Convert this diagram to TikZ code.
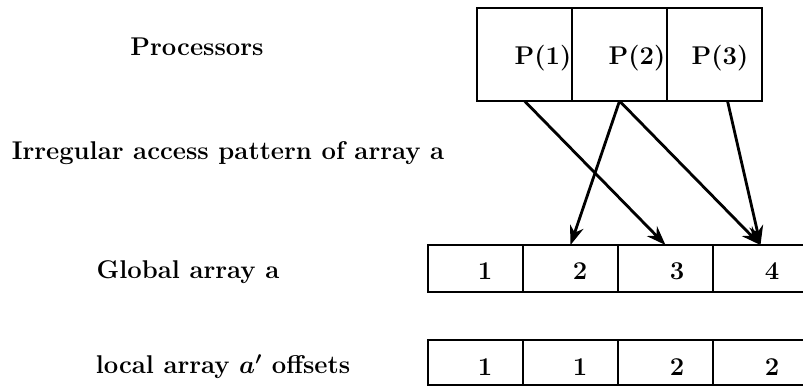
\documentclass[tikz,border=0pt]{standalone}
\usetikzlibrary{arrows.meta}
\begin{document}
\begin{tikzpicture}[x=0.02cm, y=-0.02cm, line width=1.6pt,
        font=\fontsize{14.6}{17}\selectfont\bfseries]
        \useasboundingbox (0,0) rectangle (803,387);
        % left hand labels
        \node (lproc) at (197, 47) {Processors};
        \node (lpat) at (228, 153) {Irregular access pattern of array a};
        \node (lglob) at (188, 272) {Global array a};
        \node (lloc) at (223, 367) {local array {\boldmath$a'$} offsets};
        \begin{scope}[every node/.style={draw, minimum width=1.9cm, inner sep=0pt, outer sep=0pt}]
            \node [minimum height=1.86cm] (pc1) at (524.5, 54.5) {};
            \node [minimum height=1.86cm] (pc2) at (619.5, 54.5) {};
            \node [minimum height=1.86cm] (pc3) at (714.5, 54.5) {};
            \node [minimum height=0.94cm] (g1) at (475.5, 268.5) {};
            \node [minimum height=0.94cm] (g2) at (570.5, 268.5) {};
            \node [minimum height=0.94cm] (g3) at (665.5, 268.5) {};
            \node [minimum height=0.94cm] (g4) at (760.5, 268.5) {};
            \node [minimum height=0.9cm] (o1) at (475.5, 362.5) {};
            \node [minimum height=0.9cm] (o2) at (570.5, 362.5) {};
            \node [minimum height=0.9cm] (o3) at (665.5, 362.5) {};
            \node [minimum height=0.9cm] (o4) at (760.5, 362.5) {};
        \end{scope}
        % cell texts
        \node (p1) at (543, 58) {P(1)};
        \node (p2) at (637, 58) {P(2)};
        \node (p3) at (720, 58) {P(3)};
        \node at (485, 271) {1};
        \node at (580, 271) {2};
        \node at (677, 271) {3};
        \node at (772, 271) {4};
        \node at (485, 367) {1};
        \node at (580, 367) {1};
        \node at (677, 367) {2};
        \node at (772, 367) {2};
        \begin{scope}[-{Stealth[length=11pt, width=8pt]}]
            \path (pc1.south) edge (g3.north);
            \path (pc2.south) edge (g2.north);
            \path (pc2.south) edge (g4.north);
            \path ([xshift=0.26cm]pc3.south) edge (g4.north);
        \end{scope}
    \end{tikzpicture}
\end{document}
